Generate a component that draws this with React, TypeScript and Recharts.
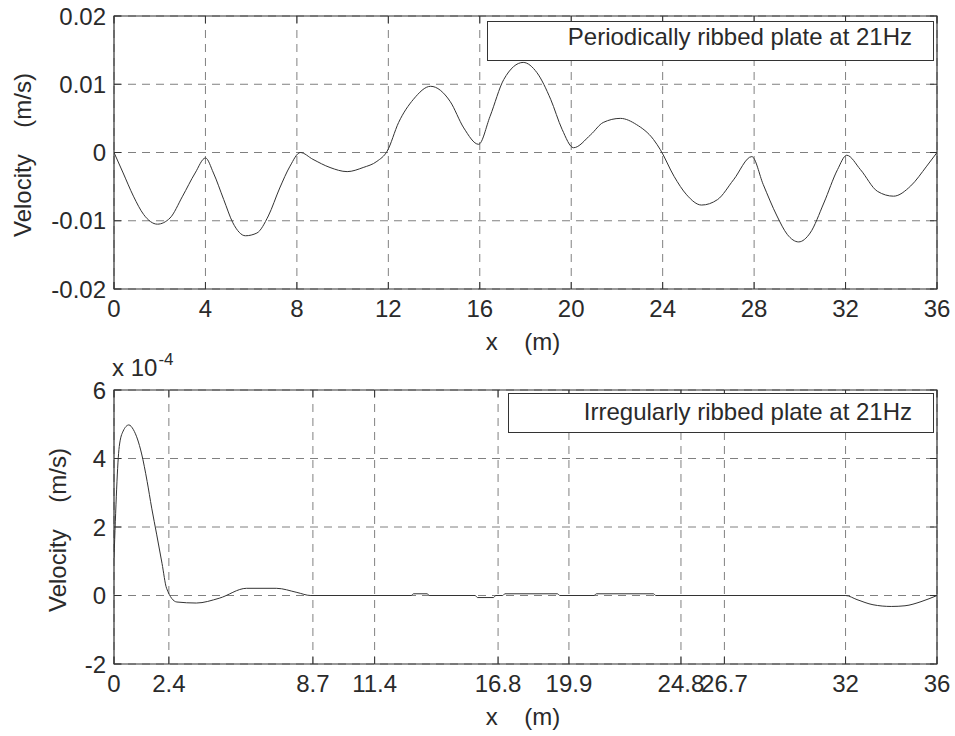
import {CartesianGrid, Line, LineChart, ReferenceArea, XAxis, YAxis} from 'recharts';

// upper plot: periodically ribbed plate, velocity in m/s
const topX = [
  0, 0.4, 0.85, 1.3, 1.9, 2.45, 3.0, 3.55, 4.0, 4.35, 4.8, 5.2, 5.75, 6.25, 6.75, 7.25, 7.7, 8.15, 8.7, 9.45,
  10.2, 10.9, 11.5, 11.95, 12.45, 13.1, 13.85, 14.7, 15.3, 15.95, 16.45, 17.05, 17.9, 18.5, 19.1, 19.6, 20.1,
  20.85, 21.4, 22.15, 22.85, 23.6, 23.9, 24.5, 25.05, 25.7, 26.4, 27.1, 27.9, 28.4, 29.0, 29.45, 29.95, 30.45,
  31.05, 31.65, 32.05, 32.65, 33.4, 34.1, 34.85, 35.55, 36,
];
const topV = [
  0, -0.003, -0.0064, -0.0091, -0.0105, -0.0096, -0.0064, -0.003, -0.0008, -0.003, -0.0069, -0.0103, -0.0122,
  -0.0118, -0.0093, -0.0052, -0.002, 0, -0.001, -0.0022, -0.0028, -0.0022, -0.0013, 0.0002, 0.0044, 0.0078,
  0.0097, 0.0075, 0.0036, 0.0012, 0.0053, 0.0107, 0.0132, 0.0117, 0.0078, 0.0034, 0.0007, 0.0026, 0.0044, 0.005,
  0.0041, 0.0019, 0.0004, -0.0035, -0.0062, -0.0077, -0.0069, -0.004, -0.0006, -0.0047, -0.0093, -0.012, -0.0131,
  -0.0118, -0.0074, -0.0025, -0.0004, -0.0025, -0.0057, -0.0064, -0.0049, -0.002, 0,
];
const topXTicks = [0, 4, 8, 12, 16, 20, 24, 28, 32, 36];
const topYTicks = [-0.02, -0.01, 0, 0.01, 0.02];

// lower plot: irregularly ribbed plate, velocity in units of 1e-4 m/s
const botX = [
  0, 0.23, 0.4, 0.65, 0.85, 1.2, 1.45, 1.65, 1.87, 2.1, 2.3, 2.75, 3.6, 4.6, 5.8, 7.1, 8.0, 8.6, 13.0, 13.1,
  13.7, 13.8, 15.8, 15.9, 16.6, 16.7, 17.0, 17.1, 19.4, 19.5, 21.0, 21.1, 23.6, 23.7, 32.0, 32.5, 33.2, 34.0,
  34.6, 35.3, 36,
];
const botV = [
  1.1, 4.35, 4.8, 4.98, 4.84, 4.16, 3.33, 2.55, 1.77, 0.94, 0.21, -0.19, -0.22, -0.08, 0.21, 0.21, 0.09, 0, 0,
  0.05, 0.05, 0, 0, -0.06, -0.06, 0, 0, 0.05, 0.05, 0, 0, 0.05, 0.05, 0, 0, -0.12, -0.27, -0.32, -0.3, -0.18, 0,
];
const botXTicks = [0, 2.4, 8.7, 11.4, 16.8, 19.9, 24.8, 26.7, 32, 36];
const botYTicks = [-2, 0, 2, 4, 6];

const topData = topX.map((x, i) => ({x, v: topV[i]}));
const botData = botX.map((x, i) => ({x, v: botV[i]}));

const FONT = '"Liberation Sans", Arial, sans-serif';
const INK = '#2a2a2a';
const AXIS = '#333333';
const PLOT_W = 823;

// matlab-style ticks: label outside, short mark inside on both sides
function yTick(plotW: number) {
  return (props: any) => {
    const {x, y, payload} = props;
    const ax = x + 8;
    return (
      <g>
        <line x1={ax} x2={ax + 7} y1={y} y2={y} stroke={AXIS} />
        <line x1={ax + plotW - 7} x2={ax + plotW} y1={y} y2={y} stroke={AXIS} />
        <text x={x} y={y} dy="0.36em" textAnchor="end" fill={INK} fontSize={24} fontFamily={FONT}>
          {String(payload.value)}
        </text>
      </g>
    );
  };
}

function xTick(plotH: number) {
  return (props: any) => {
    const {x, y, payload} = props;
    const ay = y - 8;
    return (
      <g>
        <line x1={x} x2={x} y1={ay} y2={ay - 7} stroke={AXIS} />
        <line x1={x} x2={x} y1={ay - plotH} y2={ay - plotH + 7} stroke={AXIS} />
        <text x={x} y={y + 20} textAnchor="middle" fill={INK} fontSize={24} fontFamily={FONT}>
          {String(payload.value)}
        </text>
      </g>
    );
  };
}

const textStyle = {
  position: 'absolute' as const,
  fontFamily: FONT,
  fontSize: 24,
  lineHeight: 1,
  color: INK,
  whiteSpace: 'pre' as const,
};

function LegendBox({left, top, width, height, textTop, label}: any) {
  return (
    <>
      <div
        style={{
          position: 'absolute',
          left,
          top,
          width,
          height,
          boxSizing: 'border-box',
          border: `1px solid ${AXIS}`,
          background: '#fff',
        }}
      />
      <div style={{...textStyle, top: textTop, right: 955 - 912}}>{label}</div>
    </>
  );
}

export default function App() {
  return (
    <div style={{position: 'absolute', left: 0, top: 0, width: 955, height: 736, background: '#fff'}}>
      <div style={{position: 'absolute', left: 0, top: 0}}>
        <LineChart width={955} height={370} data={topData} margin={{top: 16, right: 18, bottom: 41, left: 54}}>
          <CartesianGrid stroke="#808080" strokeDasharray="8 6" />
          <XAxis
            type="number"
            dataKey="x"
            domain={[0, 36]}
            ticks={topXTicks}
            interval={0}
            axisLine={false}
            tickLine={false}
            height={40}
            tick={xTick(273)}
            allowDataOverflow
          />
          <YAxis
            type="number"
            domain={[-0.02, 0.02]}
            ticks={topYTicks}
            interval={0}
            axisLine={false}
            tickLine={false}
            width={60}
            tick={yTick(PLOT_W)}
            allowDataOverflow
          />
          <ReferenceArea x1={0} x2={36} y1={-0.02} y2={0.02} fill="none" stroke={AXIS} strokeWidth={1.2} />
          <Line type="monotone" dataKey="v" stroke="#333" strokeWidth={1} dot={false} isAnimationActive={false} />
        </LineChart>
      </div>

      <div style={{position: 'absolute', left: 0, top: 370}}>
        <LineChart width={955} height={366} data={botData} margin={{top: 20, right: 18, bottom: 32, left: 54}}>
          <CartesianGrid stroke="#808080" strokeDasharray="8 6" />
          <XAxis
            type="number"
            dataKey="x"
            domain={[0, 36]}
            ticks={botXTicks}
            interval={0}
            axisLine={false}
            tickLine={false}
            height={40}
            tick={xTick(274)}
            allowDataOverflow
          />
          <YAxis
            type="number"
            domain={[-2, 6]}
            ticks={botYTicks}
            interval={0}
            axisLine={false}
            tickLine={false}
            width={60}
            tick={yTick(PLOT_W)}
            allowDataOverflow
          />
          <ReferenceArea x1={0} x2={36} y1={-2} y2={6} fill="none" stroke={AXIS} strokeWidth={1.2} />
          <Line type="monotone" dataKey="v" stroke="#333" strokeWidth={1} dot={false} isAnimationActive={false} />
        </LineChart>
      </div>

      <LegendBox left={487} top={21} width={447} height={40} textTop={25} label="Periodically ribbed plate at 21Hz" />
      <LegendBox left={508} top={393} width={426} height={40} textTop={400} label="Irregularly ribbed plate at 21Hz" />

      <div style={{...textStyle, left: 23, top: 155, transform: 'translate(-50%, -50%) rotate(-90deg)'}}>
        {'Velocity    (m/s)'}
      </div>
      <div style={{...textStyle, left: 58, top: 530, transform: 'translate(-50%, -50%) rotate(-90deg)'}}>
        {'Velocity    (m/s)'}
      </div>
      <div style={{...textStyle, left: 523, top: 342, transform: 'translate(-50%, -50%)'}}>{'x    (m)'}</div>
      <div style={{...textStyle, left: 523, top: 717, transform: 'translate(-50%, -50%)'}}>{'x    (m)'}</div>

      <div style={{...textStyle, left: 112, top: 356}}>
        {'x 10'}
        <span style={{fontSize: 17, position: 'relative', top: -11, marginLeft: 1}}>-4</span>
      </div>
    </div>
  );
}
